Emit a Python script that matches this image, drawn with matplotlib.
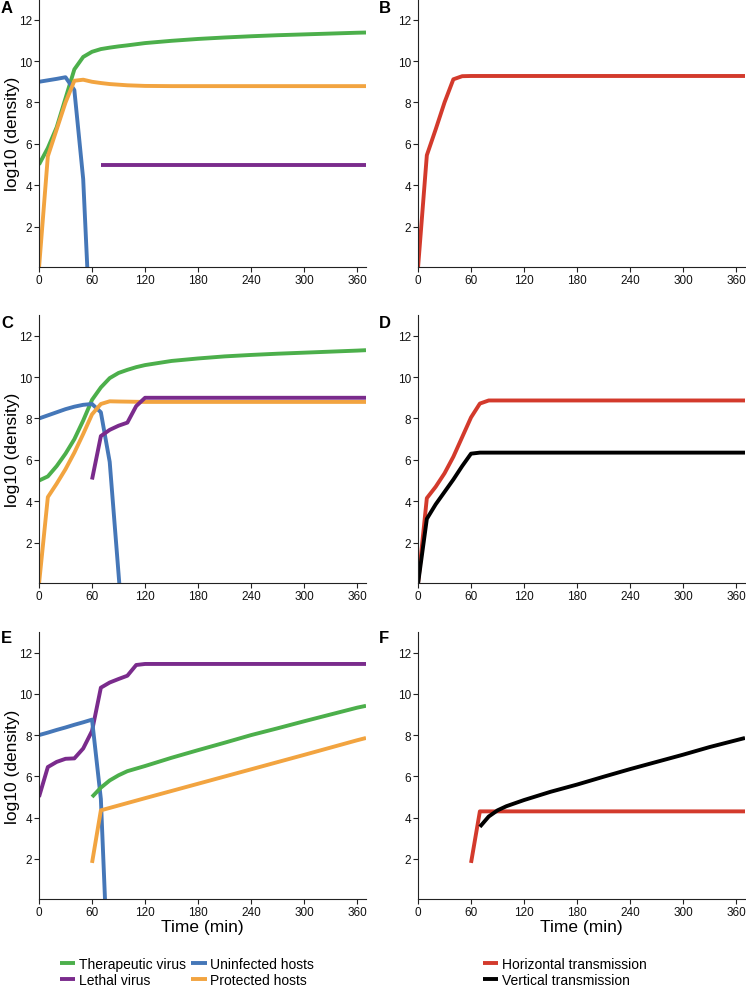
import matplotlib as mpl
mpl.use('Agg')
import matplotlib.pyplot as plt
from matplotlib.lines import Line2D

plt.rcParams['font.family'] = ['Liberation Sans', 'DejaVu Sans']

# colours
c_green = '#4CAF4B'
c_blue = '#4577B8'
c_purple = '#7A2B8C'
c_orange = '#F2A440'
c_red = '#D33A2C'
c_black = '#000000'

# ---- panel A ----
a_t_green = [0, 10, 20, 30, 40, 50, 60, 70, 80, 90, 100, 120, 150, 180, 210, 240, 270, 300, 330, 360, 370]
a_green = [5.0, 5.8, 6.8, 8.2, 9.6, 10.2, 10.45, 10.58, 10.65, 10.71, 10.76, 10.87, 10.98, 11.07, 11.14, 11.2, 11.25, 11.29, 11.33, 11.37, 11.38]
a_t_blue = [0, 10, 20, 30, 40, 50, 60]
a_blue = [9.0, 9.07, 9.14, 9.22, 8.6, 4.3, -4.9]
a_t_orange = [0, 10, 20, 30, 40, 50, 60, 70, 80, 90, 100, 120, 150, 370]
a_orange = [0.0, 5.4, 6.7, 8.0, 9.05, 9.1, 9.0, 8.94, 8.89, 8.86, 8.83, 8.8, 8.79, 8.79]
a_t_purple = [70, 120, 180, 240, 300, 370]
a_purple = [5.0, 5.0, 5.0, 5.0, 5.0, 5.0]

# ---- panel B ----
b_t_red = [0, 10, 20, 30, 40, 50, 60, 120, 240, 370]
b_red = [0.0, 5.45, 6.7, 8.0, 9.12, 9.27, 9.28, 9.28, 9.28, 9.28]

# ---- panel C ----
c_t_green = [0, 10, 20, 30, 40, 50, 60, 70, 80, 90, 100, 110, 120, 150, 180, 210, 240, 270, 300, 330, 360, 370]
c_green_v = [5.0, 5.2, 5.7, 6.3, 7.0, 7.9, 8.9, 9.5, 9.95, 10.2, 10.35, 10.48, 10.58, 10.78, 10.9, 11.0, 11.07, 11.13, 11.18, 11.23, 11.28, 11.3]
c_t_blue = [0, 10, 20, 30, 40, 50, 60, 70, 80, 90, 100]
c_blue_v = [8.0, 8.15, 8.3, 8.45, 8.57, 8.66, 8.7, 8.3, 5.9, 0.5, -4.9]
c_t_orange = [0, 10, 20, 30, 40, 50, 60, 70, 80, 90, 120, 370]
c_orange_v = [0.0, 4.2, 4.85, 5.55, 6.35, 7.25, 8.2, 8.7, 8.83, 8.82, 8.8, 8.8]
c_t_purple = [60, 70, 80, 90, 100, 110, 120, 130, 240, 370]
c_purple_v = [5.05, 7.15, 7.45, 7.65, 7.8, 8.6, 9.0, 9.0, 9.0, 9.0]

# ---- panel D ----
d_t_red = [0, 10, 20, 30, 40, 50, 60, 70, 80, 120, 240, 370]
d_red = [0.0, 4.15, 4.7, 5.35, 6.15, 7.1, 8.05, 8.72, 8.87, 8.87, 8.87, 8.87]
d_t_black = [0, 10, 20, 30, 40, 50, 60, 70, 120, 240, 370]
d_black = [0.0, 3.15, 3.85, 4.45, 5.05, 5.7, 6.3, 6.35, 6.35, 6.35, 6.35]

# ---- panel E ----
e_t_purple = [0, 10, 20, 30, 40, 50, 60, 70, 80, 90, 100, 110, 120, 240, 370]
e_purple = [5.0, 6.45, 6.7, 6.85, 6.87, 7.35, 8.2, 10.3, 10.55, 10.72, 10.88, 11.4, 11.45, 11.45, 11.45]
e_t_blue = [0, 10, 20, 30, 40, 50, 60, 70, 80]
e_blue = [8.0, 8.12, 8.25, 8.37, 8.5, 8.62, 8.75, 4.9, -5.5]
e_t_green = [60, 70, 80, 90, 100, 120, 150, 180, 210, 240, 270, 300, 330, 360, 370]
e_green = [5.0, 5.45, 5.8, 6.05, 6.25, 6.5, 6.9, 7.27, 7.63, 8.0, 8.33, 8.67, 9.0, 9.33, 9.42]
e_t_orange = [60, 70, 120, 180, 240, 300, 360, 370]
e_orange = [1.8, 4.35, 4.94, 5.64, 6.34, 7.04, 7.75, 7.86]

# ---- panel F ----
f_t_red = [60, 70, 120, 240, 370]
f_red = [1.8, 4.3, 4.3, 4.3, 4.3]
f_t_black = [70, 80, 90, 100, 120, 150, 180, 210, 240, 270, 300, 330, 360, 370]
f_black = [3.55, 4.05, 4.35, 4.55, 4.85, 5.25, 5.6, 5.98, 6.35, 6.7, 7.05, 7.42, 7.75, 7.86]

host_labels = ['Therapeutic virus', 'Lethal virus', 'Uninfected hosts', 'Protected hosts']
trans_labels = ['Horizontal transmission', 'Vertical transmission']

W, H = 746, 987
fig = plt.figure(figsize=(W / 100, H / 100), dpi=100)

def px_axes(x0, y0, x1, y1):
    # pixel box (top-left origin) -> axes
    return fig.add_axes([x0 / W, 1 - y1 / H, (x1 - x0) / W, (y1 - y0) / H])

lw = 2.8
rows = [(0, 268), (316, 584), (633, 900)]
cols = [(39, 366), (418, 745)]

panels = {}
for r, (ya, yb) in enumerate(rows):
    for c, (xa, xb) in enumerate(cols):
        ax = px_axes(xa, ya, xb, yb)
        ax.set_xlim(0, 370)
        ax.set_ylim(0.05, 13)
        ax.set_xticks([0, 60, 120, 180, 240, 300, 360])
        ax.set_yticks([2, 4, 6, 8, 10, 12])
        for s in ['top', 'right']:
            ax.spines[s].set_visible(False)
        for s in ['left', 'bottom']:
            ax.spines[s].set_linewidth(0.8)
            ax.spines[s].set_color('#222222')
        ax.tick_params(labelsize=8.5, length=3.5, width=0.8, pad=1.5, colors='#222222', labelcolor='#111111')
        if c == 0:
            ax.set_ylabel('log10 (density)', fontsize=12.5, labelpad=-1)
        if r == 2:
            ax.set_xlabel('Time (min)', fontsize=12.5, labelpad=1)
        panels[(r, c)] = ax

def draw(ax, t, v, col):
    ax.plot(t, v, color=col, lw=lw, solid_capstyle='butt', solid_joinstyle='round')

ax = panels[(0, 0)]
draw(ax, a_t_green, a_green, c_green)
draw(ax, a_t_purple, a_purple, c_purple)
draw(ax, a_t_blue, a_blue, c_blue)
draw(ax, a_t_orange, a_orange, c_orange)

ax = panels[(0, 1)]
draw(ax, b_t_red, b_red, c_red)

ax = panels[(1, 0)]
draw(ax, c_t_green, c_green_v, c_green)
draw(ax, c_t_blue, c_blue_v, c_blue)
draw(ax, c_t_orange, c_orange_v, c_orange)
draw(ax, c_t_purple, c_purple_v, c_purple)

ax = panels[(1, 1)]
draw(ax, d_t_red, d_red, c_red)
draw(ax, d_t_black, d_black, c_black)

ax = panels[(2, 0)]
draw(ax, e_t_purple, e_purple, c_purple)
draw(ax, e_t_blue, e_blue, c_blue)
draw(ax, e_t_green, e_green, c_green)
draw(ax, e_t_orange, e_orange, c_orange)

ax = panels[(2, 1)]
draw(ax, f_t_red, f_red, c_red)
draw(ax, f_t_black, f_black, c_black)

# panel letters
for lab, x, y in [('A', 1, 13), ('B', 379, 13), ('C', 1, 328), ('D', 379, 328), ('E', 1, 643), ('F', 379, 643)]:
    fig.text(x / W, 1 - y / H, lab, fontsize=12, fontweight='bold', ha='left', va='baseline')

# legends
def key(col):
    return Line2D([], [], color=col, lw=lw, solid_capstyle='butt')

leg_kw = dict(frameon=False, fontsize=10, handlelength=1.1, handletextpad=0.25,
              labelspacing=0.15, borderpad=0, borderaxespad=0, columnspacing=0.4)
fig.legend([key(c_green), key(c_purple), key(c_blue), key(c_orange)], host_labels,
           loc='upper left', bbox_to_anchor=(60 / W, 1 - 958 / H), ncol=2, **leg_kw)
fig.legend([key(c_red), key(c_black)], trans_labels,
           loc='upper left', bbox_to_anchor=(483 / W, 1 - 958 / H), ncol=1, **leg_kw)

fig.savefig('out.png', dpi=100)
